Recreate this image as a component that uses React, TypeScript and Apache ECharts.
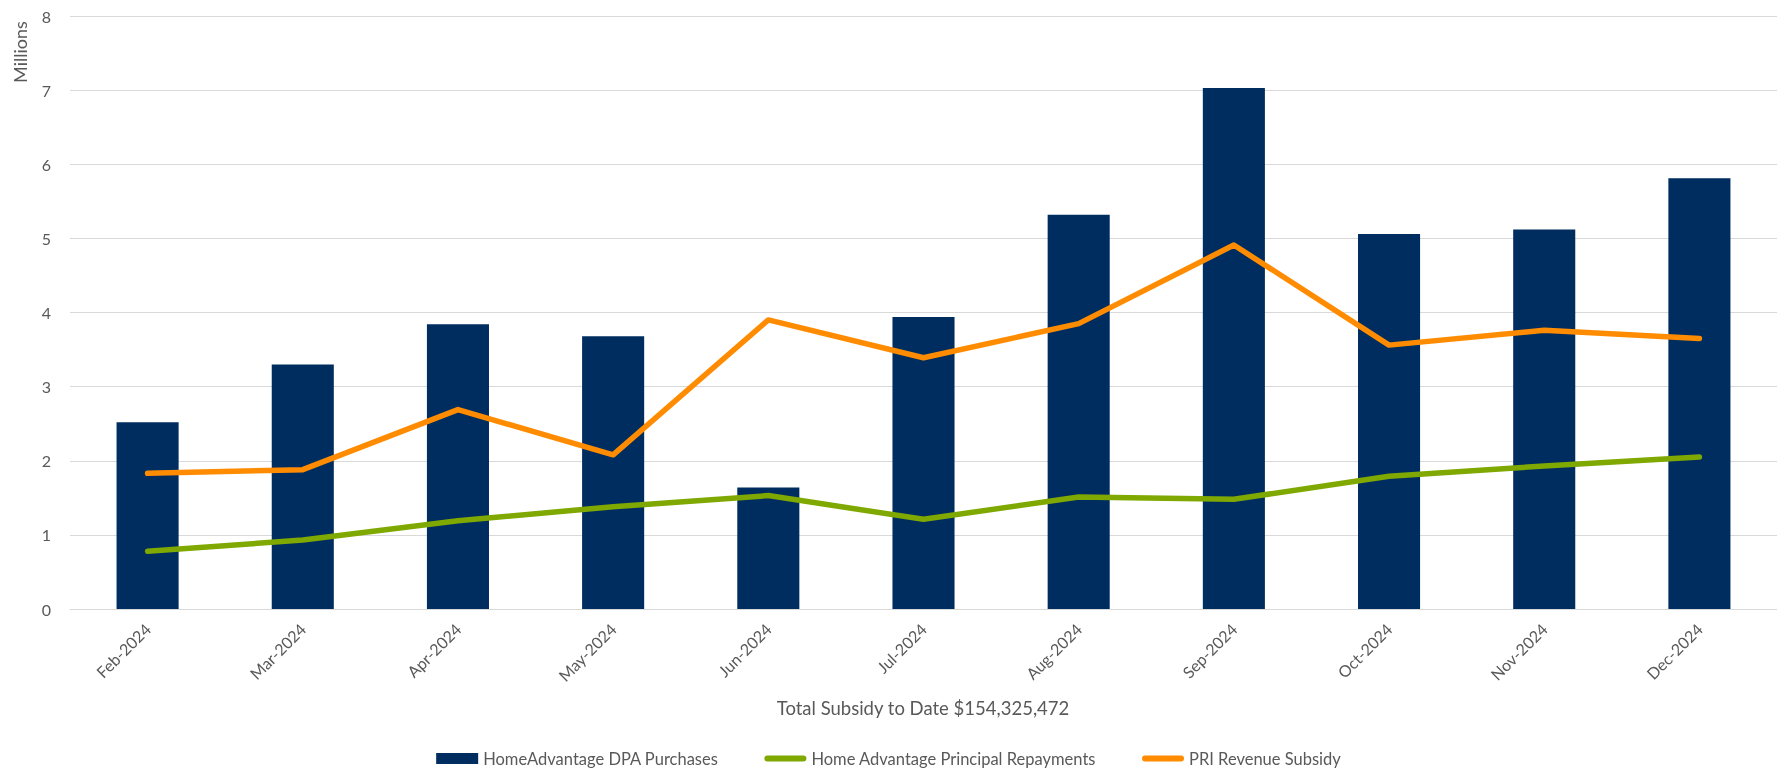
import React, { useEffect, useRef } from "react";
import * as echarts from "echarts";

const categories = ["Feb-2024", "Mar-2024", "Apr-2024", "May-2024", "Jun-2024", "Jul-2024", "Aug-2024", "Sep-2024", "Oct-2024", "Nov-2024", "Dec-2024"];
const dpaPurchases = [2.52, 3.3, 3.84, 3.68, 1.64, 3.94, 5.32, 7.03, 5.06, 5.12, 5.81];
const principalRepayments = [0.78, 0.93, 1.19, 1.38, 1.53, 1.21, 1.51, 1.48, 1.79, 1.93, 2.05];
const priRevenueSubsidy = [1.83, 1.88, 2.69, 2.08, 3.9, 3.39, 3.85, 4.91, 3.56, 3.76, 3.65];
const yTicks = { min: 0, max: 8, interval: 1 };
const axisTitle = "Total Subsidy to Date $154,325,472";
const yTitle = "Millions";

const FONT = "Lato";
const TEXT = "#595959";

export default function App() {
  const ref = useRef<HTMLDivElement>(null);
  useEffect(() => {
    if (!ref.current) return;
    const chart = echarts.init(ref.current, undefined, { renderer: "svg" });
    const linePath = "path://M3,0 H39 A3,3 0 0 1 39,6 H3 A3,3 0 0 1 3,0 Z";
    chart.setOption({
      animation: false,
      textStyle: { fontFamily: FONT },
      grid: { left: 70, right: 0, top: 16, bottom: 161, containLabel: false },
      legend: {
        left: "center",
        top: 745,
        itemGap: 46,
        itemWidth: 42,
        itemHeight: 11,
        textStyle: { color: TEXT, fontSize: 16.5, fontFamily: FONT },
        data: [
          { name: "HomeAdvantage DPA Purchases", icon: "rect" },
          { name: "Home Advantage Principal Repayments", icon: linePath },
          { name: "PRI Revenue Subsidy", icon: linePath },
        ],
      },
      xAxis: {
        type: "category",
        data: categories,
        axisLine: { lineStyle: { color: "#d9d9d9", width: 1 } },
        axisTick: { show: false },
        axisLabel: { rotate: 45, color: TEXT, fontSize: 16, margin: 17, fontFamily: FONT },
      },
      yAxis: {
        type: "value",
        min: yTicks.min,
        max: yTicks.max,
        interval: yTicks.interval,
        axisLine: { show: false },
        axisTick: { show: false },
        splitLine: { lineStyle: { color: "#d9d9d9", width: 1 } },
        axisLabel: { color: TEXT, fontSize: 16, margin: 19, fontFamily: FONT },
      },
      graphic: [
        {
          type: "text",
          x: 923,
          y: 708,
          style: { text: axisTitle, fill: TEXT, fontSize: 18.5, fontFamily: FONT, textAlign: "center", textVerticalAlign: "middle" },
        },
        {
          type: "text",
          x: 20,
          y: 52,
          rotation: Math.PI / 2,
          style: { text: yTitle, fill: TEXT, fontSize: 18, fontFamily: FONT, textAlign: "center", textVerticalAlign: "middle" },
        },
      ],
      series: [
        {
          name: "HomeAdvantage DPA Purchases",
          type: "bar",
          data: dpaPurchases,
          barWidth: "40%",
          itemStyle: { color: "#002D5F" },
        },
        {
          name: "Home Advantage Principal Repayments",
          type: "line",
          data: principalRepayments,
          symbol: "none",
          itemStyle: { color: "#7FA800" },
          lineStyle: { color: "#7FA800", width: 5.5, cap: "round", join: "round" },
        },
        {
          name: "PRI Revenue Subsidy",
          type: "line",
          data: priRevenueSubsidy,
          symbol: "none",
          itemStyle: { color: "#FF8C00" },
          lineStyle: { color: "#FF8C00", width: 5.5, cap: "round", join: "round" },
        },
      ],
    });
    return () => chart.dispose();
  }, []);
  return <div ref={ref} style={{ position: "fixed", left: 0, top: 0, width: 1777, height: 770 }} />;
}
